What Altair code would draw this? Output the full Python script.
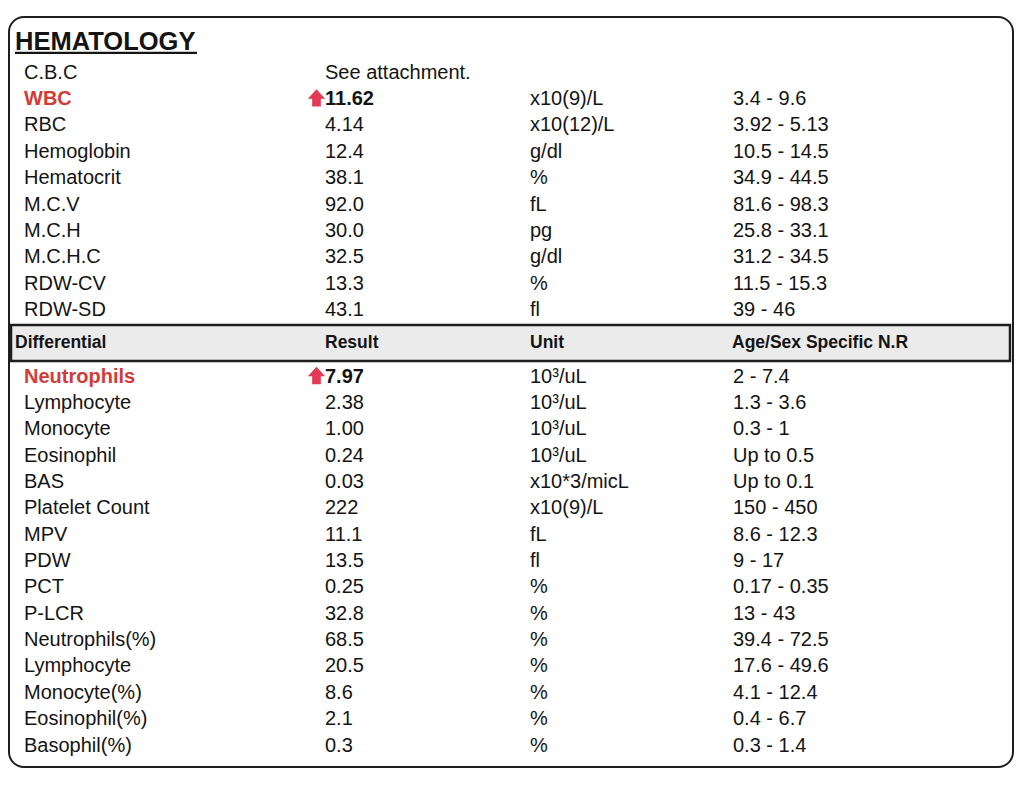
import altair as alt
import pandas as pd

# ---------------- data ----------------
title_text = "HEMATOLOGY"

cbc_names = ["C.B.C", "WBC", "RBC", "Hemoglobin", "Hematocrit", "M.C.V", "M.C.H",
             "M.C.H.C", "RDW-CV", "RDW-SD"]
cbc_results = ["See attachment.", "11.62", "4.14", "12.4", "38.1", "92.0", "30.0",
               "32.5", "13.3", "43.1"]
cbc_units = ["", "x10(9)/L", "x10(12)/L", "g/dl", "%", "fL", "pg", "g/dl", "%", "fl"]
cbc_ranges = ["", "3.4 - 9.6", "3.92 - 5.13", "10.5 - 14.5", "34.9 - 44.5",
              "81.6 - 98.3", "25.8 - 33.1", "31.2 - 34.5", "11.5 - 15.3", "39 - 46"]

header_labels = ["Differential", "Result", "Unit", "Age/Sex Specific N.R"]

diff_names = ["Neutrophils", "Lymphocyte", "Monocyte", "Eosinophil", "BAS",
              "Platelet Count", "MPV", "PDW", "PCT", "P-LCR", "Neutrophils(%)",
              "Lymphocyte", "Monocyte(%)", "Eosinophil(%)", "Basophil(%)"]
diff_results = ["7.97", "2.38", "1.00", "0.24", "0.03", "222", "11.1", "13.5",
                "0.25", "32.8", "68.5", "20.5", "8.6", "2.1", "0.3"]
diff_units = ["10³/uL", "10³/uL", "10³/uL", "10³/uL", "x10*3/micL", "x10(9)/L",
              "fL", "fl", "%", "%", "%", "%", "%", "%", "%"]
diff_ranges = ["2 - 7.4", "1.3 - 3.6", "0.3 - 1", "Up to 0.5", "Up to 0.1",
               "150 - 450", "8.6 - 12.3", "9 - 17", "0.17 - 0.35", "13 - 43",
               "39.4 - 72.5", "17.6 - 49.6", "4.1 - 12.4", "0.4 - 6.7", "0.3 - 1.4"]

high_flags_top = [False, True] + [False] * 8
high_flags_diff = [True] + [False] * 14

# ---------------- layout ----------------
W, H = 1006, 772
OFF = 8
FONT = "Liberation Sans"
INK = "#141414"
RED = "#d13c3a"
ARROW = "#e23a57"

col_keys = ["name", "result", "unit", "range"]
col_left = {"name": 24, "result": 325, "unit": 530, "range": 733}
TOP_BASE, TOP_STEP = 78.5, 26.42
DIFF_BASE, DIFF_STEP = 382.5, 26.36

records = []
def add_block(names, results, units, ranges, flags, base, step):
    for i, vals in enumerate(zip(names, results, units, ranges)):
        yb = base + i * step
        for key, val in zip(col_keys, vals):
            if val == "":
                continue
            records.append(dict(x=col_left[key] - OFF, y=yb - OFF, text=val,
                                key=key, high=bool(flags[i])))

add_block(cbc_names, cbc_results, cbc_units, cbc_ranges, high_flags_top, TOP_BASE, TOP_STEP)
add_block(diff_names, diff_results, diff_units, diff_ranges, high_flags_diff, DIFF_BASE, DIFF_STEP)
df = pd.DataFrame(records)

hdr_left = [15, 325, 530, 732]
hdr_df = pd.DataFrame({"x": [v - OFF for v in hdr_left], "y": [347.5 - OFF] * 4,
                       "text": header_labels})

arrow_df = df[(df["high"]) & (df["key"] == "result")].copy()
arrow_df["x"] = arrow_df["x"] - 8.5
arrow_df["y"] = arrow_df["y"] - 7

title_df = pd.DataFrame({"x": [15 - OFF], "y": [49.5 - OFF], "text": [title_text]})
one = pd.DataFrame({"k": [0]})

xs = alt.X("x:Q", scale=alt.Scale(domain=[0, W], nice=False, zero=False), axis=None)
ys = alt.Y("y:Q", scale=alt.Scale(domain=[0, H], nice=False, zero=False, reverse=True), axis=None)

frame = alt.Chart(one).mark_rect(fillOpacity=0, stroke="#1e1e1e", strokeWidth=2,
                                 cornerRadius=15).encode(
    x=alt.value(1), x2=alt.value(1005), y=alt.value(9), y2=alt.value(759))

hdr_box = alt.Chart(one).mark_rect(fill="#ebebeb", stroke="#1e1e1e", strokeWidth=2.5).encode(
    x=alt.value(3), x2=alt.value(1002), y=alt.value(317), y2=alt.value(353))

underline = alt.Chart(one).mark_rule(color=INK, strokeWidth=2.2).encode(
    x=alt.value(7), x2=alt.value(189), y=alt.value(44.8))

title = alt.Chart(title_df).mark_text(align="left", baseline="alphabetic", font=FONT,
                                      fontSize=25.5, fontWeight="bold", color=INK).encode(
    x=xs, y=ys, text="text:N")

plain = alt.Chart(df).transform_filter(
    "!datum.high || datum.key == 'unit' || datum.key == 'range'"
).mark_text(align="left", baseline="alphabetic", font=FONT, fontSize=20, color=INK).encode(
    x=xs, y=ys, text="text:N")

red_names = alt.Chart(df).transform_filter(
    "datum.high && datum.key == 'name'"
).mark_text(align="left", baseline="alphabetic", font=FONT, fontSize=20,
            fontWeight="bold", color=RED).encode(x=xs, y=ys, text="text:N")

bold_results = alt.Chart(df).transform_filter(
    "datum.high && datum.key == 'result'"
).mark_text(align="left", baseline="alphabetic", font=FONT, fontSize=20,
            fontWeight="bold", color=INK).encode(x=xs, y=ys, text="text:N")

header = alt.Chart(hdr_df).mark_text(align="left", baseline="alphabetic", font=FONT,
                                     fontSize=17.5, fontWeight="bold", color=INK).encode(
    x=xs, y=ys, text="text:N")

arrows = alt.Chart(arrow_df).mark_point(
    shape="M0,-1L1,0.1L0.5,0.1L0.5,1L-0.5,1L-0.5,0.1L-1,0.1Z",
    filled=True, size=300, color=ARROW, opacity=1).encode(x=xs, y=ys)

chart = alt.layer(frame, hdr_box, underline, title, plain, red_names, bold_results,
                  header, arrows).properties(
    width=W, height=H, padding=0, autosize=alt.AutoSizeParams(type="none")
).configure_view(stroke=None)

chart.save("out.html", embed_options={"renderer": "svg", "actions": False})
